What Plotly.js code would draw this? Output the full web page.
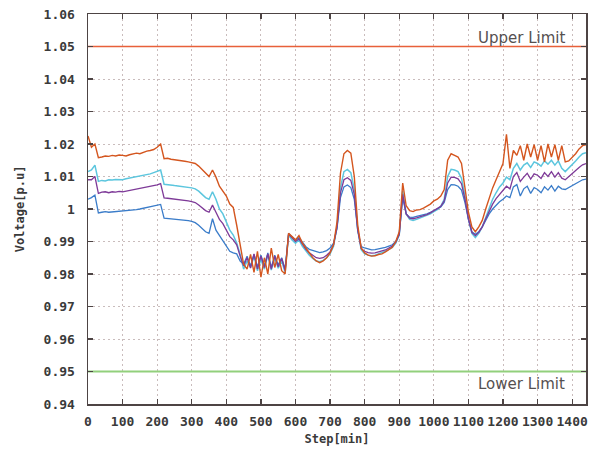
<!DOCTYPE html>
<html>
<head>
<meta charset="utf-8">
<script src="https://cdn.plot.ly/plotly-3.0.1.min.js"></script>
<style>html,body{margin:0;padding:0;background:#fff;}#chart{width:602px;height:450px;}</style>
</head>
<body>
<div id="chart"></div>
<script>
// sampling grid: every 10 minutes from 0 to 1440
const steps = Array.from({length: 145}, (_, i) => i * 10);

const seriesOrange = [
1.0225,1.0190,1.0200,1.0158,1.0160,1.0163,1.0162,1.0165,1.0163,1.0166,
1.0165,1.0163,1.0167,1.0170,1.0172,1.0170,1.0175,1.0178,1.0180,1.0183,
1.0190,1.0200,1.0155,1.0156,1.0153,1.0152,1.0150,1.0148,1.0147,1.0145,
1.0143,1.0140,1.0132,1.0122,1.0110,1.0100,1.0120,1.0098,1.0070,1.0055,
1.0040,1.0015,1.0005,0.9950,0.9890,0.9830,0.9815,0.9860,0.9805,0.9870,
0.9790,0.9850,0.9800,0.9880,0.9820,0.9860,0.9810,0.9800,0.9925,0.9915,
0.9905,0.9918,0.9895,0.9880,0.9865,0.9850,0.9840,0.9835,0.9840,0.9850,
0.9865,0.9890,0.9960,1.0110,1.0170,1.0180,1.0172,1.0100,0.9950,0.9880,
0.9865,0.9858,0.9855,0.9856,0.9860,0.9862,0.9868,0.9875,0.9882,0.9900,
0.9930,1.0080,1.0010,0.9995,0.9992,0.9997,0.9998,1.0003,1.0008,1.0015,
1.0025,1.0030,1.0040,1.0060,1.0150,1.0170,1.0165,1.0160,1.0140,1.0070,
0.9990,0.9945,0.9930,0.9945,0.9965,1.0000,1.0035,1.0065,1.0090,1.0115,
1.0140,1.0230,1.0125,1.0180,1.0165,1.0195,1.0150,1.0200,1.0160,1.0198,
1.0150,1.0195,1.0145,1.0200,1.0160,1.0198,1.0150,1.0195,1.0145,1.0148,
1.0158,1.0170,1.0185,1.0195,1.0198
];

const seriesCyan = [
1.0115,1.0120,1.0135,1.0085,1.0088,1.0086,1.0090,1.0089,1.0091,1.0090,
1.0090,1.0093,1.0095,1.0097,1.0098,1.0100,1.0103,1.0106,1.0108,1.0112,
1.0115,1.0120,1.0076,1.0074,1.0073,1.0072,1.0071,1.0070,1.0068,1.0066,
1.0065,1.0062,1.0055,1.0045,1.0035,1.0030,1.0053,1.0030,1.0000,0.9985,
0.9960,0.9935,0.9920,0.9895,0.9860,0.9815,0.9840,0.9820,0.9855,0.9810,
0.9845,0.9815,0.9860,0.9812,0.9850,0.9818,0.9840,0.9805,0.9920,0.9905,
0.9895,0.9905,0.9885,0.9870,0.9858,0.9848,0.9840,0.9838,0.9842,0.9850,
0.9862,0.9885,0.9945,1.0065,1.0115,1.0122,1.0112,1.0060,0.9935,0.9875,
0.9862,0.9858,0.9856,0.9858,0.9862,0.9865,0.9870,0.9876,0.9882,0.9895,
0.9920,1.0055,0.9985,0.9968,0.9965,0.9968,0.9972,0.9976,0.9980,0.9985,
0.9992,0.9998,1.0008,1.0030,1.0100,1.0122,1.0120,1.0115,1.0095,1.0040,
0.9970,0.9925,0.9912,0.9925,0.9945,0.9975,1.0005,1.0030,1.0050,1.0068,
1.0080,1.0098,1.0090,1.0125,1.0140,1.0120,1.0135,1.0142,1.0128,1.0145,
1.0140,1.0132,1.0148,1.0138,1.0150,1.0135,1.0148,1.0125,1.0115,1.0125,
1.0135,1.0148,1.0160,1.0170,1.0173
];

const seriesPurple = [
1.0090,1.0090,1.0100,1.0048,1.0052,1.0053,1.0050,1.0053,1.0052,1.0054,
1.0053,1.0055,1.0057,1.0058,1.0060,1.0062,1.0064,1.0066,1.0068,1.0071,
1.0074,1.0078,1.0034,1.0033,1.0032,1.0031,1.0030,1.0029,1.0027,1.0025,
1.0023,1.0020,1.0012,1.0003,0.9995,0.9990,1.0012,0.9990,0.9968,0.9955,
0.9935,0.9915,0.9905,0.9890,0.9855,0.9825,0.9850,0.9818,0.9862,0.9815,
0.9855,0.9820,0.9862,0.9815,0.9855,0.9822,0.9848,0.9810,0.9922,0.9910,
0.9900,0.9908,0.9890,0.9876,0.9865,0.9856,0.9850,0.9848,0.9850,0.9858,
0.9868,0.9890,0.9945,1.0050,1.0090,1.0096,1.0088,1.0045,0.9935,0.9878,
0.9870,0.9866,0.9864,0.9865,0.9868,0.9870,0.9874,0.9880,0.9886,0.9898,
0.9922,1.0045,0.9985,0.9972,0.9970,0.9973,0.9976,0.9979,0.9983,0.9988,
0.9994,1.0000,1.0008,1.0025,1.0080,1.0098,1.0097,1.0093,1.0078,1.0030,
0.9970,0.9928,0.9918,0.9928,0.9945,0.9970,0.9995,1.0015,1.0032,1.0045,
1.0055,1.0070,1.0062,1.0100,1.0112,1.0085,1.0098,1.0110,1.0092,1.0108,
1.0104,1.0094,1.0112,1.0100,1.0115,1.0098,1.0112,1.0095,1.0090,1.0100,
1.0108,1.0118,1.0128,1.0136,1.0140
];

const seriesBlue = [
1.0030,1.0035,1.0043,0.9988,0.9990,0.9992,0.9990,0.9991,0.9990,0.9992,
0.9992,0.9994,0.9995,0.9997,0.9998,1.0000,1.0002,1.0004,1.0006,1.0008,
1.0010,1.0014,0.9972,0.9971,0.9970,0.9970,0.9969,0.9968,0.9966,0.9964,
0.9962,0.9958,0.9950,0.9940,0.9930,0.9925,0.9970,0.9935,0.9918,0.9905,
0.9888,0.9870,0.9865,0.9862,0.9840,0.9830,0.9855,0.9825,0.9860,0.9822,
0.9858,0.9825,0.9865,0.9820,0.9858,0.9828,0.9850,0.9815,0.9925,0.9915,
0.9905,0.9912,0.9896,0.9884,0.9876,0.9872,0.9868,0.9866,0.9868,0.9872,
0.9880,0.9895,0.9940,1.0035,1.0068,1.0074,1.0066,1.0030,0.9935,0.9884,
0.9880,0.9876,0.9874,0.9875,0.9877,0.9879,0.9882,0.9886,0.9890,0.9900,
0.9922,1.0035,0.9985,0.9975,0.9974,0.9977,0.9979,0.9982,0.9985,0.9990,
0.9995,1.0000,1.0006,1.0020,1.0060,1.0075,1.0074,1.0070,1.0058,1.0020,
0.9968,0.9930,0.9922,0.9930,0.9945,0.9965,0.9985,1.0000,1.0012,1.0022,
1.0030,1.0040,1.0035,1.0068,1.0075,1.0040,1.0062,1.0070,1.0048,1.0066,
1.0060,1.0050,1.0068,1.0058,1.0072,1.0055,1.0070,1.0062,1.0060,1.0066,
1.0072,1.0080,1.0086,1.0090,1.0092
];

const limitRange = [0, 1440];
const upperLimit = 1.05;
const lowerLimit = 0.95;
const upperLabel = 'Upper Limit';
const lowerLabel = 'Lower Limit';

const yTickVals = [0.94,0.95,0.96,0.97,0.98,0.99,1.00,1.01,1.02,1.03,1.04,1.05,1.06];
const yTickText = ['0.94','0.95','0.96','0.97','0.98','0.99','1','1.01','1.02','1.03','1.04','1.05','1.06'];
const xTickVals = [0,100,200,300,400,500,600,700,800,900,1000,1100,1200,1300,1400];

const monoFont = 'DejaVu Sans Mono, Liberation Mono, monospace';

function line(y, color, width) {
  return {x: steps, y: y, type: 'scatter', mode: 'lines',
          line: {color: color, width: width || 1.3}, hoverinfo: 'skip'};
}

const traces = [
  {x: limitRange, y: [upperLimit, upperLimit], type: 'scatter', mode: 'lines', line: {color: '#e8603a', width: 1.6}},
  {x: limitRange, y: [lowerLimit, lowerLimit], type: 'scatter', mode: 'lines', line: {color: '#92d07c', width: 2}},
  line(seriesCyan, '#5cc6de', 1.5),
  line(seriesBlue, '#3a7cc9', 1.3),
  line(seriesPurple, '#7e3a98', 1.3),
  line(seriesOrange, '#d4561f', 1.4)
];

const axisCommon = {
  showline: true, linecolor: '#4d4444', linewidth: 1.5, mirror: 'ticks',
  ticks: 'inside', ticklen: 5, tickwidth: 1.2, tickcolor: '#4d4444',
  showgrid: true, gridcolor: '#c9bcbc', gridwidth: 1, griddash: '2px,3px',
  zeroline: false,
  tickfont: {family: monoFont, size: 13, color: '#3a3a3a', weight: 'bold'}
};

const layout = {
  width: 602, height: 450,
  margin: {l: 88, r: 16, t: 14, b: 46},
  paper_bgcolor: '#ffffff', plot_bgcolor: '#ffffff',
  showlegend: false,
  xaxis: Object.assign({}, axisCommon, {
    range: [0, 1440], tickmode: 'array', tickvals: xTickVals,
    ticklabelstandoff: 5,
    title: {text: 'Step[min]', standoff: 6, font: {family: monoFont, size: 12, color: '#3a3a3a', weight: 'bold'}}
  }),
  yaxis: Object.assign({}, axisCommon, {
    range: [0.94, 1.06], tickmode: 'array', tickvals: yTickVals, ticktext: yTickText,
    ticklabelstandoff: 9,
    title: {text: 'Voltage[p.u]', standoff: 16, font: {family: monoFont, size: 12, color: '#3a3a3a', weight: 'bold'}}
  }),
  annotations: [
    {x: 1386, y: 1.0526, xref: 'x', yref: 'y', text: upperLabel, showarrow: false,
     xanchor: 'right', yanchor: 'middle', font: {family: 'DejaVu Sans, Verdana, sans-serif', size: 15, color: '#555050'}},
    {x: 1386, y: 0.9462, xref: 'x', yref: 'y', text: lowerLabel, showarrow: false,
     xanchor: 'right', yanchor: 'middle', font: {family: 'DejaVu Sans, Verdana, sans-serif', size: 15, color: '#555050'}}
  ]
};

Plotly.newPlot('chart', traces, layout, {staticPlot: true, displayModeBar: false});
</script>
</body>
</html>
